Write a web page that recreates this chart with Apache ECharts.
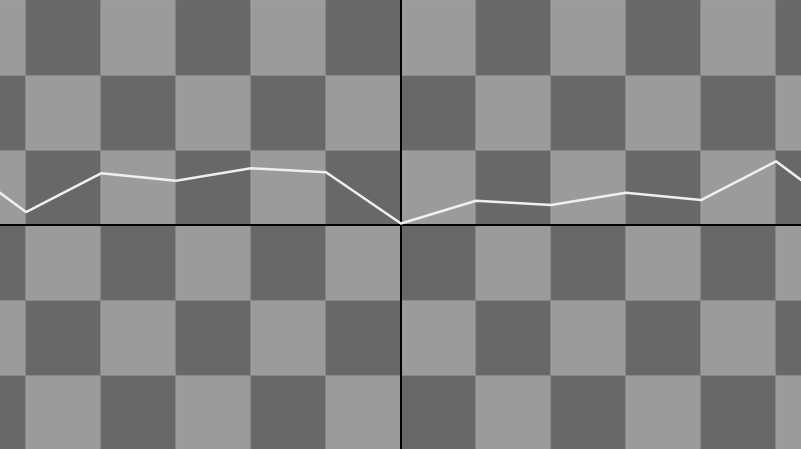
<!DOCTYPE html>
<html>
<head>
<meta charset="utf-8">
<script src="https://cdn.jsdelivr.net/npm/echarts@6/dist/echarts.min.js"></script>
<style>
	html, body { margin: 0; padding: 0; background: #999; }
	#chart { width: 801px; height: 449px; }
</style>
</head>
<body>
<div id="chart"></div>
<script>
var xValues = [-6, -5, -4, -3, -2, -1, 0, 1, 2, 3, 4, 5, 6]; //横坐标
var yValues = [0.91, 0.173, 0.689, 0.591, 0.756, 0.703, 0.02, 0.324, 0.267, 0.431, 0.333, 0.849, 0.108]; //曲线

var tileCols = [-6, -5, -4, -3, -2, -1, 0, 1, 2, 3, 4, 5]; //棋盘格 列
var tileRows = [-3, -2, -1, 0, 1, 2]; //棋盘格 行

var lineData = [];
for (var i = 0; i < xValues.length; i++) {
	lineData.push([xValues[i], yValues[i]]);
}

var tiles = [];
for (var c = 0; c < tileCols.length; c++) {
	for (var r = 0; r < tileRows.length; r++) {
		tiles.push([tileCols[c], tileRows[r]]);
	}
}

var chart = echarts.init(document.getElementById('chart'));
var option = {
	animation: false,
	backgroundColor: '#9b9b9b',
	grid: {
		left: 0,
		right: 0,
		top: 0,
		bottom: 0
	},
	xAxis: {
		type: 'value',
		min: -401 / 75,
		max: 400 / 75,
		axisLine: { onZero: true, lineStyle: { color: '#000', width: 2 } },
		axisTick: { show: false },
		axisLabel: { show: false },
		splitLine: { show: false }
	},
	yAxis: {
		type: 'value',
		min: -224 / 75,
		max: 3,
		axisLine: { show: true, onZero: true, lineStyle: { color: '#000', width: 2 } },
		axisTick: { show: false },
		axisLabel: { show: false },
		splitLine: { show: false }
	},
	series: [{
		type: 'custom',
		clip: true,
		silent: true,
		z: 0,
		data: tiles,
		renderItem: function(params, api) {
			var i = api.value(0), j = api.value(1);
			var p0 = api.coord([i, j + 1]);
			var p1 = api.coord([i + 1, j]);
			var even = ((i + j) % 2 + 2) % 2 === 0;
			return {
				type: 'rect',
				shape: { x: p0[0], y: p0[1], width: p1[0] - p0[0], height: p1[1] - p0[1] },
				style: { fill: even ? '#9b9b9b' : '#686868', stroke: even ? '#a2a2a2' : '#6e6e6e', lineWidth: 1 }
			};
		}
	}, {
		type: 'line',
		data: lineData,
		clip: true,
		z: 5,
		showSymbol: false,
		lineStyle: { color: '#efefef', width: 2.5 }
	}]
};
chart.setOption(option, true);
</script>
</body>
</html>
